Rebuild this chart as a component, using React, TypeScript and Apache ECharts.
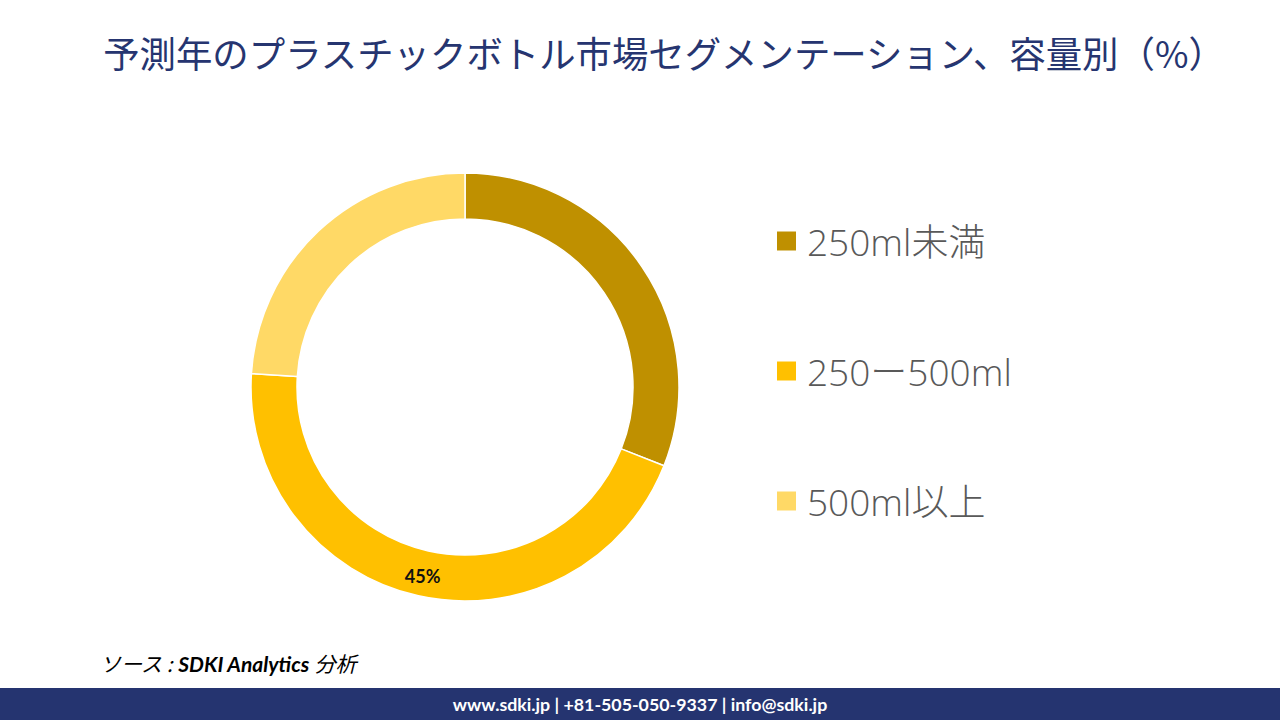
import React, { useEffect, useRef } from "react";
import * as echarts from "echarts";

const titleText = "予測年のプラスチックボトル市場セグメンテーション、容量別（%）";
const categories = ["250ml未満", "250ー500ml", "500ml以上"];
const shares = [31, 45, 24];
const colors = ["#BF9000", "#FFC000", "#FFD966"];
const labelShown = [false, true, false];
const footerText = "www.sdki.jp | +81-505-050-9337 | info@sdki.jp";

export default function App() {
  const ref = useRef<HTMLDivElement>(null);
  useEffect(() => {
    if (!ref.current) return;
    const chart = echarts.init(ref.current, null, { renderer: "svg" });
    chart.setOption({
      animation: false,
      backgroundColor: "#ffffff",
      legend: {
        orient: "vertical",
        left: 775,
        top: 221,
        padding: 0,
        itemWidth: 21,
        itemHeight: 21,
        itemGap: 90,
        icon: "rect",
        textStyle: {
          fontSize: 37,
          lineHeight: 40,
          fontWeight: 300,
          color: "#595959",
          fontFamily: "'Open Sans', 'Noto Sans CJK JP', sans-serif",
          padding: [0, 0, 0, 5],
        },
        data: categories,
      },
      series: [
        {
          type: "pie",
          center: [465, 387],
          radius: [168, 214],
          startAngle: 90,
          clockwise: true,
          avoidLabelOverlap: false,
          itemStyle: { borderColor: "#ffffff", borderWidth: 1.5 },
          label: {
            show: true,
            position: "inside",
            formatter: "{c}%",
            color: "#111111",
            fontWeight: "bold",
            fontSize: 18,
            fontFamily: "Lato, 'Open Sans', sans-serif",
          },
          labelLine: { show: false },
          emphasis: { disabled: true },
          data: categories.map((name, i) => ({
            name,
            value: shares[i],
            itemStyle: { color: colors[i] },
            label: { show: labelShown[i] },
          })),
        },
      ],
      graphic: [
        {
          type: "text",
          x: 664,
          y: 52,
          style: {
            text: titleText,
            fontSize: 36.4,
            align: "center",
            verticalAlign: "middle",
            fill: "#263570",
            fontFamily: "'Noto Sans CJK JP', sans-serif",
          },
        },
        {
          type: "text",
          x: 100,
          y: 663,
          style: {
            text: "{a|ソース : }{b|SDKI Analytics}{a| 分析}",
            verticalAlign: "middle",
            rich: {
              a: { fontSize: 21, fontStyle: "italic", fill: "#000", fontFamily: "'Noto Sans CJK JP', sans-serif" },
              b: { fontSize: 21, fontStyle: "italic", fontWeight: "bold", fill: "#000", fontFamily: "Lato, sans-serif" },
            },
          },
        },
        {
          type: "rect",
          shape: { x: 0, y: 688, width: 1280, height: 32 },
          style: { fill: "#253470" },
        },
        {
          type: "text",
          x: 640,
          y: 704,
          style: {
            text: footerText,
            align: "center",
            verticalAlign: "middle",
            fontSize: 17.8,
            fontWeight: "bold",
            fill: "#ffffff",
            fontFamily: "Lato, 'Open Sans', sans-serif",
          },
        },
      ],
    });
    return () => chart.dispose();
  }, []);
  return <div ref={ref} style={{ position: "fixed", left: 0, top: 0, width: 1280, height: 720 }} />;
}
